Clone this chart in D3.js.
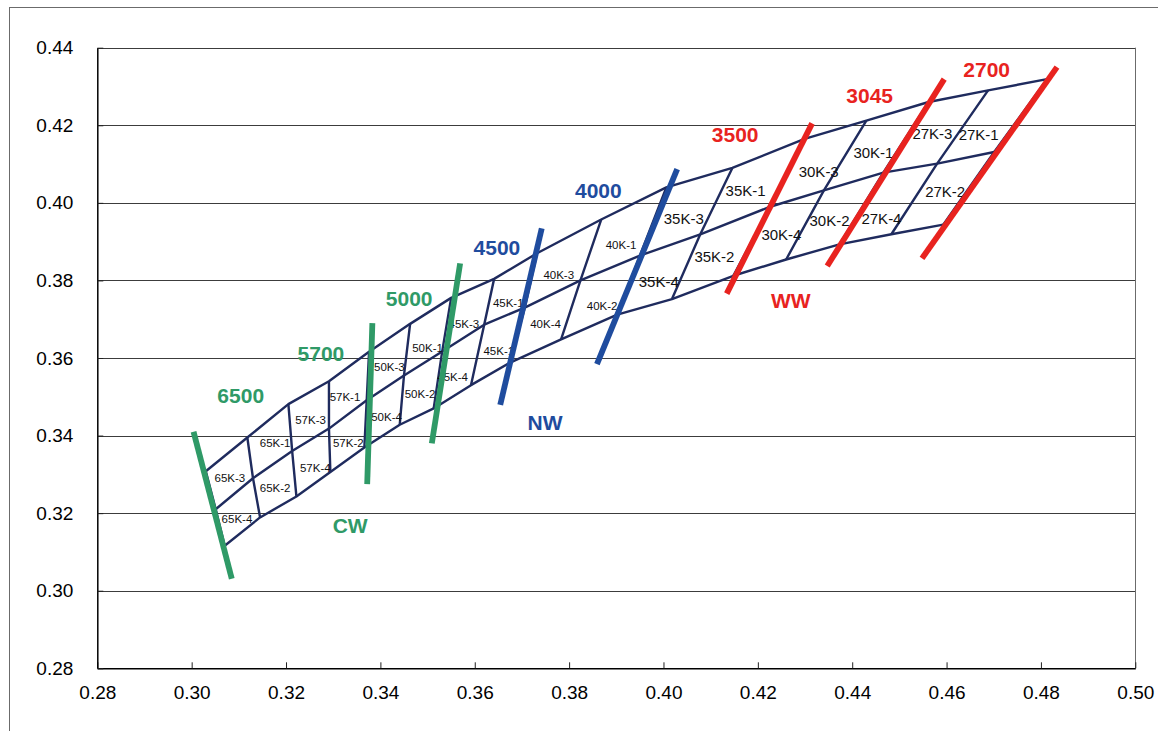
<!DOCTYPE html>
<html>
<head>
<meta charset="utf-8">
<script src="https://cdn.jsdelivr.net/npm/d3@7"></script>
<style>
  html, body { margin: 0; padding: 0; background: #fff; }
  #chart { width: 1158px; height: 731px; }
  text { font-family: "Liberation Sans", Arial, sans-serif; }
  .axis text { font-size: 19px; fill: #000; }
  .cell { font-size: 11.5px; fill: #111; }
  .cell.big { font-size: 15px; }
  .cct { font-size: 21px; font-weight: bold; }
</style>
</head>
<body>
<div id="chart"></div>
<script>
// ANSI-style chromaticity quadrangles, CIE x/y

const xTicks = [0.28, 0.30, 0.32, 0.34, 0.36, 0.38, 0.40, 0.42, 0.44, 0.46, 0.48, 0.50];
const yTicks = [0.28, 0.30, 0.32, 0.34, 0.36, 0.38, 0.40, 0.42, 0.44];

// the three long lines of the mesh, one point per cross line (left to right)
const topEdge = [
  [0.3030, 0.3308], [0.3118, 0.3395], [0.3205, 0.3481], [0.3291, 0.3540],
  [0.3376, 0.3616], [0.3463, 0.3688], [0.3550, 0.3755], [0.3641, 0.3804],
  [0.3732, 0.3870], [0.3868, 0.3957], [0.4006, 0.4040], [0.4146, 0.4090],
  [0.4299, 0.4165], [0.4430, 0.4212], [0.4562, 0.4260], [0.4688, 0.4290],
  [0.4813, 0.4319]
];
const midLine = [
  [0.3051, 0.3210], [0.3130, 0.3290], [0.3213, 0.3360], [0.3291, 0.3418],
  [0.3371, 0.3491], [0.3450, 0.3555], [0.3531, 0.3617], [0.3620, 0.3686],
  [0.3706, 0.3730], [0.3824, 0.3800], [0.3950, 0.3864], [0.4078, 0.3919],
  [0.4226, 0.3990], [0.4340, 0.4032], [0.4466, 0.4078], [0.4580, 0.4101],
  [0.4701, 0.4131]
];
const bottomEdge = [
  [0.3070, 0.3116], [0.3145, 0.3189], [0.3222, 0.3243], [0.3294, 0.3306],
  [0.3366, 0.3369], [0.3441, 0.3428], [0.3513, 0.3470], [0.3592, 0.3530],
  [0.3675, 0.3588], [0.3783, 0.3648], [0.3902, 0.3712], [0.4018, 0.3752],
  [0.4148, 0.3812], [0.4260, 0.3854], [0.4373, 0.3893], [0.4483, 0.3919],
  [0.4593, 0.3944]
];

// sub-bin names and where they sit
const cellNames = ["65K-3", "65K-1", "65K-2", "65K-4", "57K-3", "57K-1", "57K-2", "57K-4",
  "50K-3", "50K-4", "50K-1", "50K-2", "45K-3", "45K-4", "45K-1", "45K-1",
  "40K-3", "40K-4", "40K-1", "40K-2", "35K-3", "35K-4", "35K-1", "35K-2",
  "30K-3", "30K-4", "30K-2", "30K-1", "27K-4", "27K-3", "27K-1", "27K-2"];
const cellX = [0.3081, 0.3177, 0.3177, 0.3096, 0.3252, 0.3325, 0.3332, 0.3262,
  0.3419, 0.3413, 0.3500, 0.3484, 0.3577, 0.3553, 0.3671, 0.3651,
  0.3778, 0.3750, 0.3910, 0.3870, 0.4043, 0.3990, 0.4174, 0.4108,
  0.4329, 0.4250, 0.4352, 0.4445, 0.4462, 0.4570, 0.4668, 0.4597];
const cellY = [0.3291, 0.3380, 0.3264, 0.3184, 0.3440, 0.3500, 0.3380, 0.3317,
  0.3576, 0.3447, 0.3625, 0.3507, 0.3689, 0.3552, 0.3742, 0.3618,
  0.3815, 0.3689, 0.3891, 0.3734, 0.3960, 0.3796, 0.4031, 0.3861,
  0.4080, 0.3917, 0.3955, 0.4130, 0.3960, 0.4179, 0.4175, 0.4028];

// CCT lines
const cctNames = ["6500", "5700", "5000", "4500", "4000", "3500", "3045", "2700"];
const cctGroup = ["CW", "CW", "CW", "NW", "NW", "WW", "WW", "WW"];
const cctStart = [[0.3004, 0.3410], [0.3383, 0.3690], [0.3569, 0.3844], [0.3742, 0.3934],
  [0.4029, 0.4087], [0.4315, 0.4205], [0.4595, 0.4319], [0.4834, 0.4350]];
const cctEnd = [[0.3085, 0.3031], [0.3372, 0.3275], [0.3509, 0.3380], [0.3654, 0.3479],
  [0.3859, 0.3584], [0.4134, 0.3766], [0.4347, 0.3837], [0.4548, 0.3857]];
const cctLabelPos = [[0.3104, 0.3503], [0.3274, 0.3613], [0.3461, 0.3753], [0.3647, 0.3885],
  [0.3862, 0.4031], [0.4152, 0.4177], [0.4437, 0.4278], [0.4685, 0.4345]];

const groupNames = ["CW", "NW", "WW"];
const groupPos = [[0.3336, 0.3169], [0.3749, 0.3435], [0.4270, 0.3748]];
const groupColor = { CW: "#2f9a67", NW: "#1f4c9e", WW: "#e8231f" };

const width = 1158;
const height = 731;
const margin = { top: 47.7, right: 22.7, bottom: 62.7, left: 97.3 };

const svg = d3.select("#chart")
  .append("svg")
  .attr("width", width)
  .attr("height", height);

// outer frame
svg.append("rect")
  .attr("x", 9.5).attr("y", 7.5)
  .attr("width", width).attr("height", height)
  .attr("fill", "none")
  .attr("stroke", "#6b6b6b");

const xScale = d3.scaleLinear()
  .domain([0.28, 0.50])
  .range([margin.left, width - margin.right]);

const yScale = d3.scaleLinear()
  .domain([0.28, 0.44])
  .range([height - margin.bottom, margin.top]);

// grid lines
svg.append("g")
  .selectAll("line")
  .data(yTicks.slice(1))
  .join("line")
  .attr("x1", xScale(0.28))
  .attr("x2", xScale(0.50))
  .attr("y1", d => Math.round(yScale(d)) + 0.5)
  .attr("y2", d => Math.round(yScale(d)) + 0.5)
  .attr("stroke", "#3c3c3c")
  .attr("stroke-width", 1);

// right border of plot area
svg.append("line")
  .attr("x1", Math.round(xScale(0.50)) + 0.5)
  .attr("x2", Math.round(xScale(0.50)) + 0.5)
  .attr("y1", yScale(0.44))
  .attr("y2", yScale(0.28))
  .attr("stroke", "#6b6b6b");

const xAxis = svg.append("g")
  .attr("class", "axis")
  .attr("transform", `translate(0,${yScale(0.28)})`)
  .call(d3.axisBottom(xScale).tickValues(xTicks).tickFormat(d3.format(".2f"))
    .tickSizeInner(-6).tickSizeOuter(0).tickPadding(17));

const yAxis = svg.append("g")
  .attr("class", "axis")
  .attr("transform", `translate(${xScale(0.28)},0)`)
  .call(d3.axisLeft(yScale).tickValues(yTicks).tickFormat(d3.format(".2f"))
    .tickSizeInner(-6).tickSizeOuter(0).tickPadding(24));

svg.selectAll(".axis .domain").attr("stroke", "#000").attr("stroke-width", 1.5);
svg.selectAll(".axis .tick line").attr("stroke", "#222");
svg.selectAll(".axis text").attr("font-family", null);

// mesh
const line = d3.line()
  .x(d => xScale(d[0]))
  .y(d => yScale(d[1]));

const mesh = svg.append("g")
  .attr("fill", "none")
  .attr("stroke", "#1f2b5e")
  .attr("stroke-width", 2.4)
  .attr("stroke-linejoin", "round");

[topEdge, midLine, bottomEdge].forEach(function(edge) {
  mesh.append("path").attr("d", line(edge));
});

topEdge.forEach(function(p, i) {
  mesh.append("path").attr("d", line([p, midLine[i], bottomEdge[i]]));
});

// cell labels
svg.append("g")
  .selectAll("text")
  .data(cellNames)
  .join("text")
  .attr("class", (d, i) => i >= 20 ? "cell big" : "cell")
  .attr("x", (d, i) => xScale(cellX[i]))
  .attr("y", (d, i) => yScale(cellY[i]))
  .attr("dy", "0.36em")
  .attr("text-anchor", "middle")
  .text(d => d);

// CCT lines
svg.append("g")
  .selectAll("line")
  .data(cctNames)
  .join("line")
  .attr("x1", (d, i) => xScale(cctStart[i][0]))
  .attr("y1", (d, i) => yScale(cctStart[i][1]))
  .attr("x2", (d, i) => xScale(cctEnd[i][0]))
  .attr("y2", (d, i) => yScale(cctEnd[i][1]))
  .attr("stroke", (d, i) => groupColor[cctGroup[i]])
  .attr("stroke-width", 5.8);

svg.append("g")
  .selectAll("text")
  .data(cctNames)
  .join("text")
  .attr("class", "cct")
  .attr("x", (d, i) => xScale(cctLabelPos[i][0]))
  .attr("y", (d, i) => yScale(cctLabelPos[i][1]))
  .attr("dy", "0.36em")
  .attr("text-anchor", "middle")
  .attr("fill", (d, i) => groupColor[cctGroup[i]])
  .text(d => d);

svg.append("g")
  .selectAll("text")
  .data(groupNames)
  .join("text")
  .attr("class", "cct")
  .attr("x", (d, i) => xScale(groupPos[i][0]))
  .attr("y", (d, i) => yScale(groupPos[i][1]))
  .attr("dy", "0.36em")
  .attr("text-anchor", "middle")
  .attr("fill", d => groupColor[d])
  .text(d => d);
</script>
</body>
</html>
